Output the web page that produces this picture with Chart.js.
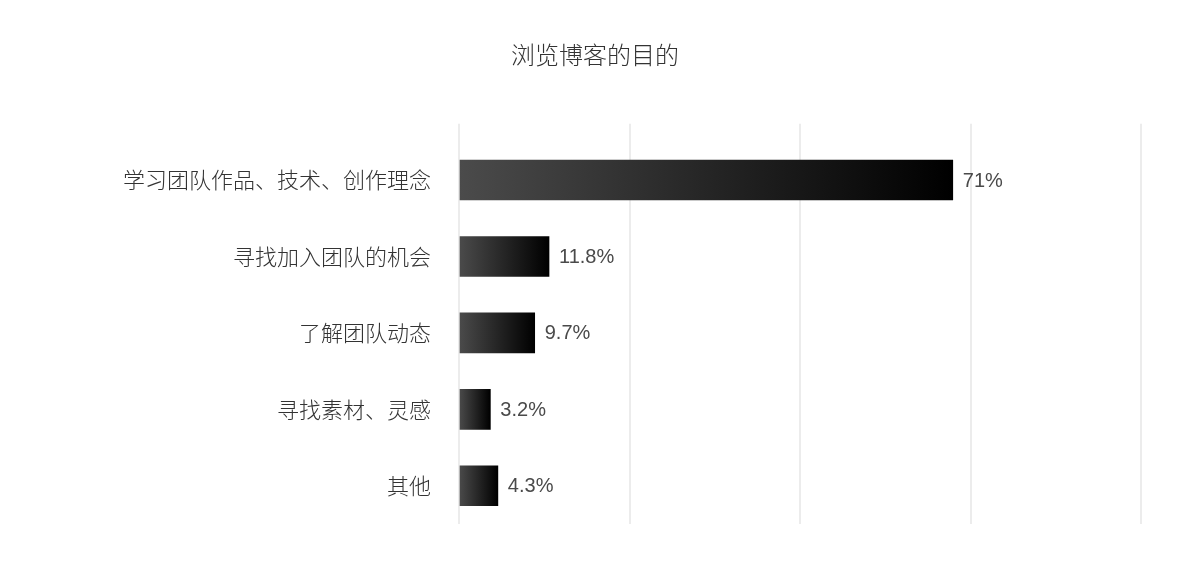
<!DOCTYPE html>
<html>
<head>
<meta charset="utf-8">
<script src="https://cdn.jsdelivr.net/npm/chart.js@4/dist/chart.umd.min.js"></script>
<style>
  html, body { margin: 0; padding: 0; background: #ffffff; }
  #wrap { width: 1200px; height: 585px; }
</style>
</head>
<body>
<div id="wrap"><canvas id="c" width="1200" height="585"></canvas></div>
<script>
// ---- data ----
const TITLE = '浏览博客的目的';
const categories = ['学习团队作品、技术、创作理念', '寻找加入团队的机会', '了解团队动态', '寻找素材、灵感', '其他'];
const values = [71, 11.8, 9.7, 3.2, 4.3];
const valueLabels = ['71%', '11.8%', '9.7%', '3.2%', '4.3%'];
const AXIS_BASE = -1.4;
const AXIS_SPAN = 100;
const AXIS_STEP = 25;

const valueLabelPlugin = {
  id: 'valueLabels',
  afterDatasetsDraw(chart) {
    const ctx = chart.ctx;
    const meta = chart.getDatasetMeta(0);
    ctx.save();
    ctx.font = '20px "Liberation Sans", Arial, sans-serif';
    ctx.fillStyle = '#4a4a4a';
    ctx.textAlign = 'left';
    ctx.textBaseline = 'middle';
    meta.data.forEach((el, i) => {
      ctx.fillText(valueLabels[i], el.x + 10, el.y + 1);
    });
    ctx.restore();
  }
};

new Chart(document.getElementById('c'), {
  type: 'bar',
  data: {
    labels: categories,
    datasets: [{
      data: values,
      base: AXIS_BASE,
      barThickness: 40,
      borderWidth: 0,
      backgroundColor: (c) => {
        const chart = c.chart;
        if (!chart.chartArea || c.raw === undefined) return '#333333';
        const xs = chart.scales.x;
        const x0 = xs.getPixelForValue(AXIS_BASE);
        const x1 = xs.getPixelForValue(c.raw);
        const g = chart.ctx.createLinearGradient(x0, 0, x1, 0);
        g.addColorStop(0, '#4b4b4b');
        g.addColorStop(1, '#000000');
        return g;
      }
    }]
  },
  options: {
    indexAxis: 'y',
    responsive: false,
    animation: false,
    devicePixelRatio: 1,
    layout: { padding: { left: 49, right: 59, top: 0, bottom: 61 } },
    plugins: {
      legend: { display: false },
      tooltip: { enabled: false },
      title: {
        display: true,
        text: TITLE,
        color: '#333333',
        font: { family: '"Noto Sans CJK SC", sans-serif', size: 24, weight: '300' },
        padding: { top: 40, bottom: 55 }
      }
    },
    scales: {
      x: {
        position: 'top',
        min: AXIS_BASE,
        max: AXIS_BASE + AXIS_SPAN,
        afterBuildTicks: (scale) => {
          const t = [];
          for (let v = 0; v <= AXIS_SPAN; v += AXIS_STEP) t.push({ value: AXIS_BASE + v });
          scale.ticks = t;
        },
        ticks: { display: false },
        border: { display: false },
        grid: { color: '#ececec', lineWidth: 2, drawTicks: true, tickLength: 18, tickColor: '#ececec', tickWidth: 2 }
      },
      y: {
        afterFit: (scale) => { scale.width = 410; },
        border: { display: false },
        grid: { display: false, drawTicks: false },
        ticks: {
          padding: 28,
          color: '#333333',
          font: { family: '"Noto Sans CJK SC", sans-serif', size: 22, weight: '300' }
        }
      }
    }
  },
  plugins: [valueLabelPlugin]
});
</script>
</body>
</html>
